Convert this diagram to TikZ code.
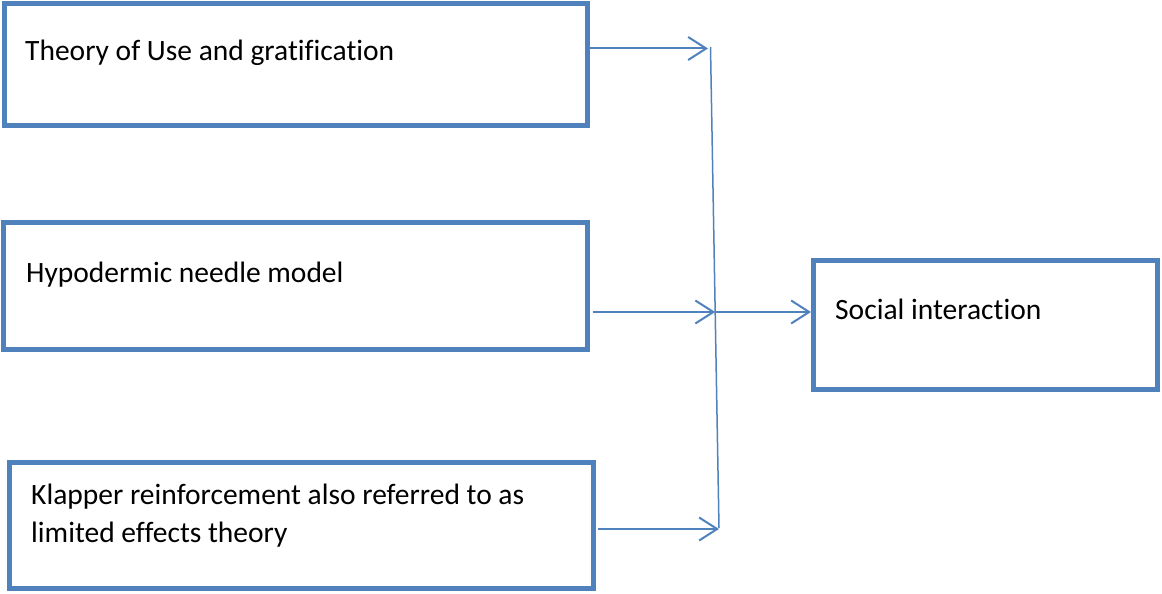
\documentclass[tikz,border=0pt]{standalone}
\usepackage{fontspec}
\setmainfont{Carlito}[Ligatures=NoCommon]
\usetikzlibrary{arrows.meta}
\definecolor{boxblue}{HTML}{4F81BD}
\begin{document}
\begin{tikzpicture}[x=1pt,y=-1pt,
    theorybox/.style={draw=boxblue,line width=5pt,rectangle,inner sep=0pt},
    boxtext/.style={inner sep=0pt,anchor=base west,font=\fontsize{29.5}{37.5}\selectfont},
    link/.style={draw=boxblue,line width=2pt,-{Straight Barb[length=18pt,width=23pt]}}]
    \useasboundingbox (0,0) rectangle (1162,594);
    \node[theorybox,minimum width=583pt,minimum height=122pt] (usegrat) at (295.5,64.5) {};
    \node[theorybox,minimum width=583.5pt,minimum height=127.5pt] (hyponeedle) at (295.25,285.75) {};
    \node[theorybox,minimum width=583.5pt,minimum height=126.5pt] (klapper) at (301.25,525.25) {};
    \node[theorybox,minimum width=344pt,minimum height=129pt] (social) at (985.5,325) {};
    \node[boxtext] (usegrattext) at (25,60) {Theory of Use and gratification};
    \node[boxtext] (hyponeedletext) at (26,282) {Hypodermic needle model};
    \node[boxtext,anchor=north west,align=left] (klappertext) at (31,484)
      {Klapper reinforcement also referred to as\\limited effects theory};
    \node[boxtext] (socialtext) at (835,319) {Social interaction};
    \coordinate (jtop) at (710.5,47);
    \coordinate (jbot) at (719,528);
    \coordinate (jmid) at (715.2,312);
    \coordinate (tipone) at (708,48.5);
    \coordinate (tipthree) at (719,529);
    \draw[draw=boxblue,line width=1.5pt] (jtop) -- (jbot);
    \draw[link] (usegrat.east |- tipone) -- (tipone);
    \draw[link] ([xshift=3pt]hyponeedle.east |- jmid) -- (jmid);
    \draw[link] ([xshift=2pt]klapper.east |- tipthree) -- (tipthree);
    \draw[link] (jmid) -- (social.west |- jmid);
\end{tikzpicture}
\end{document}
